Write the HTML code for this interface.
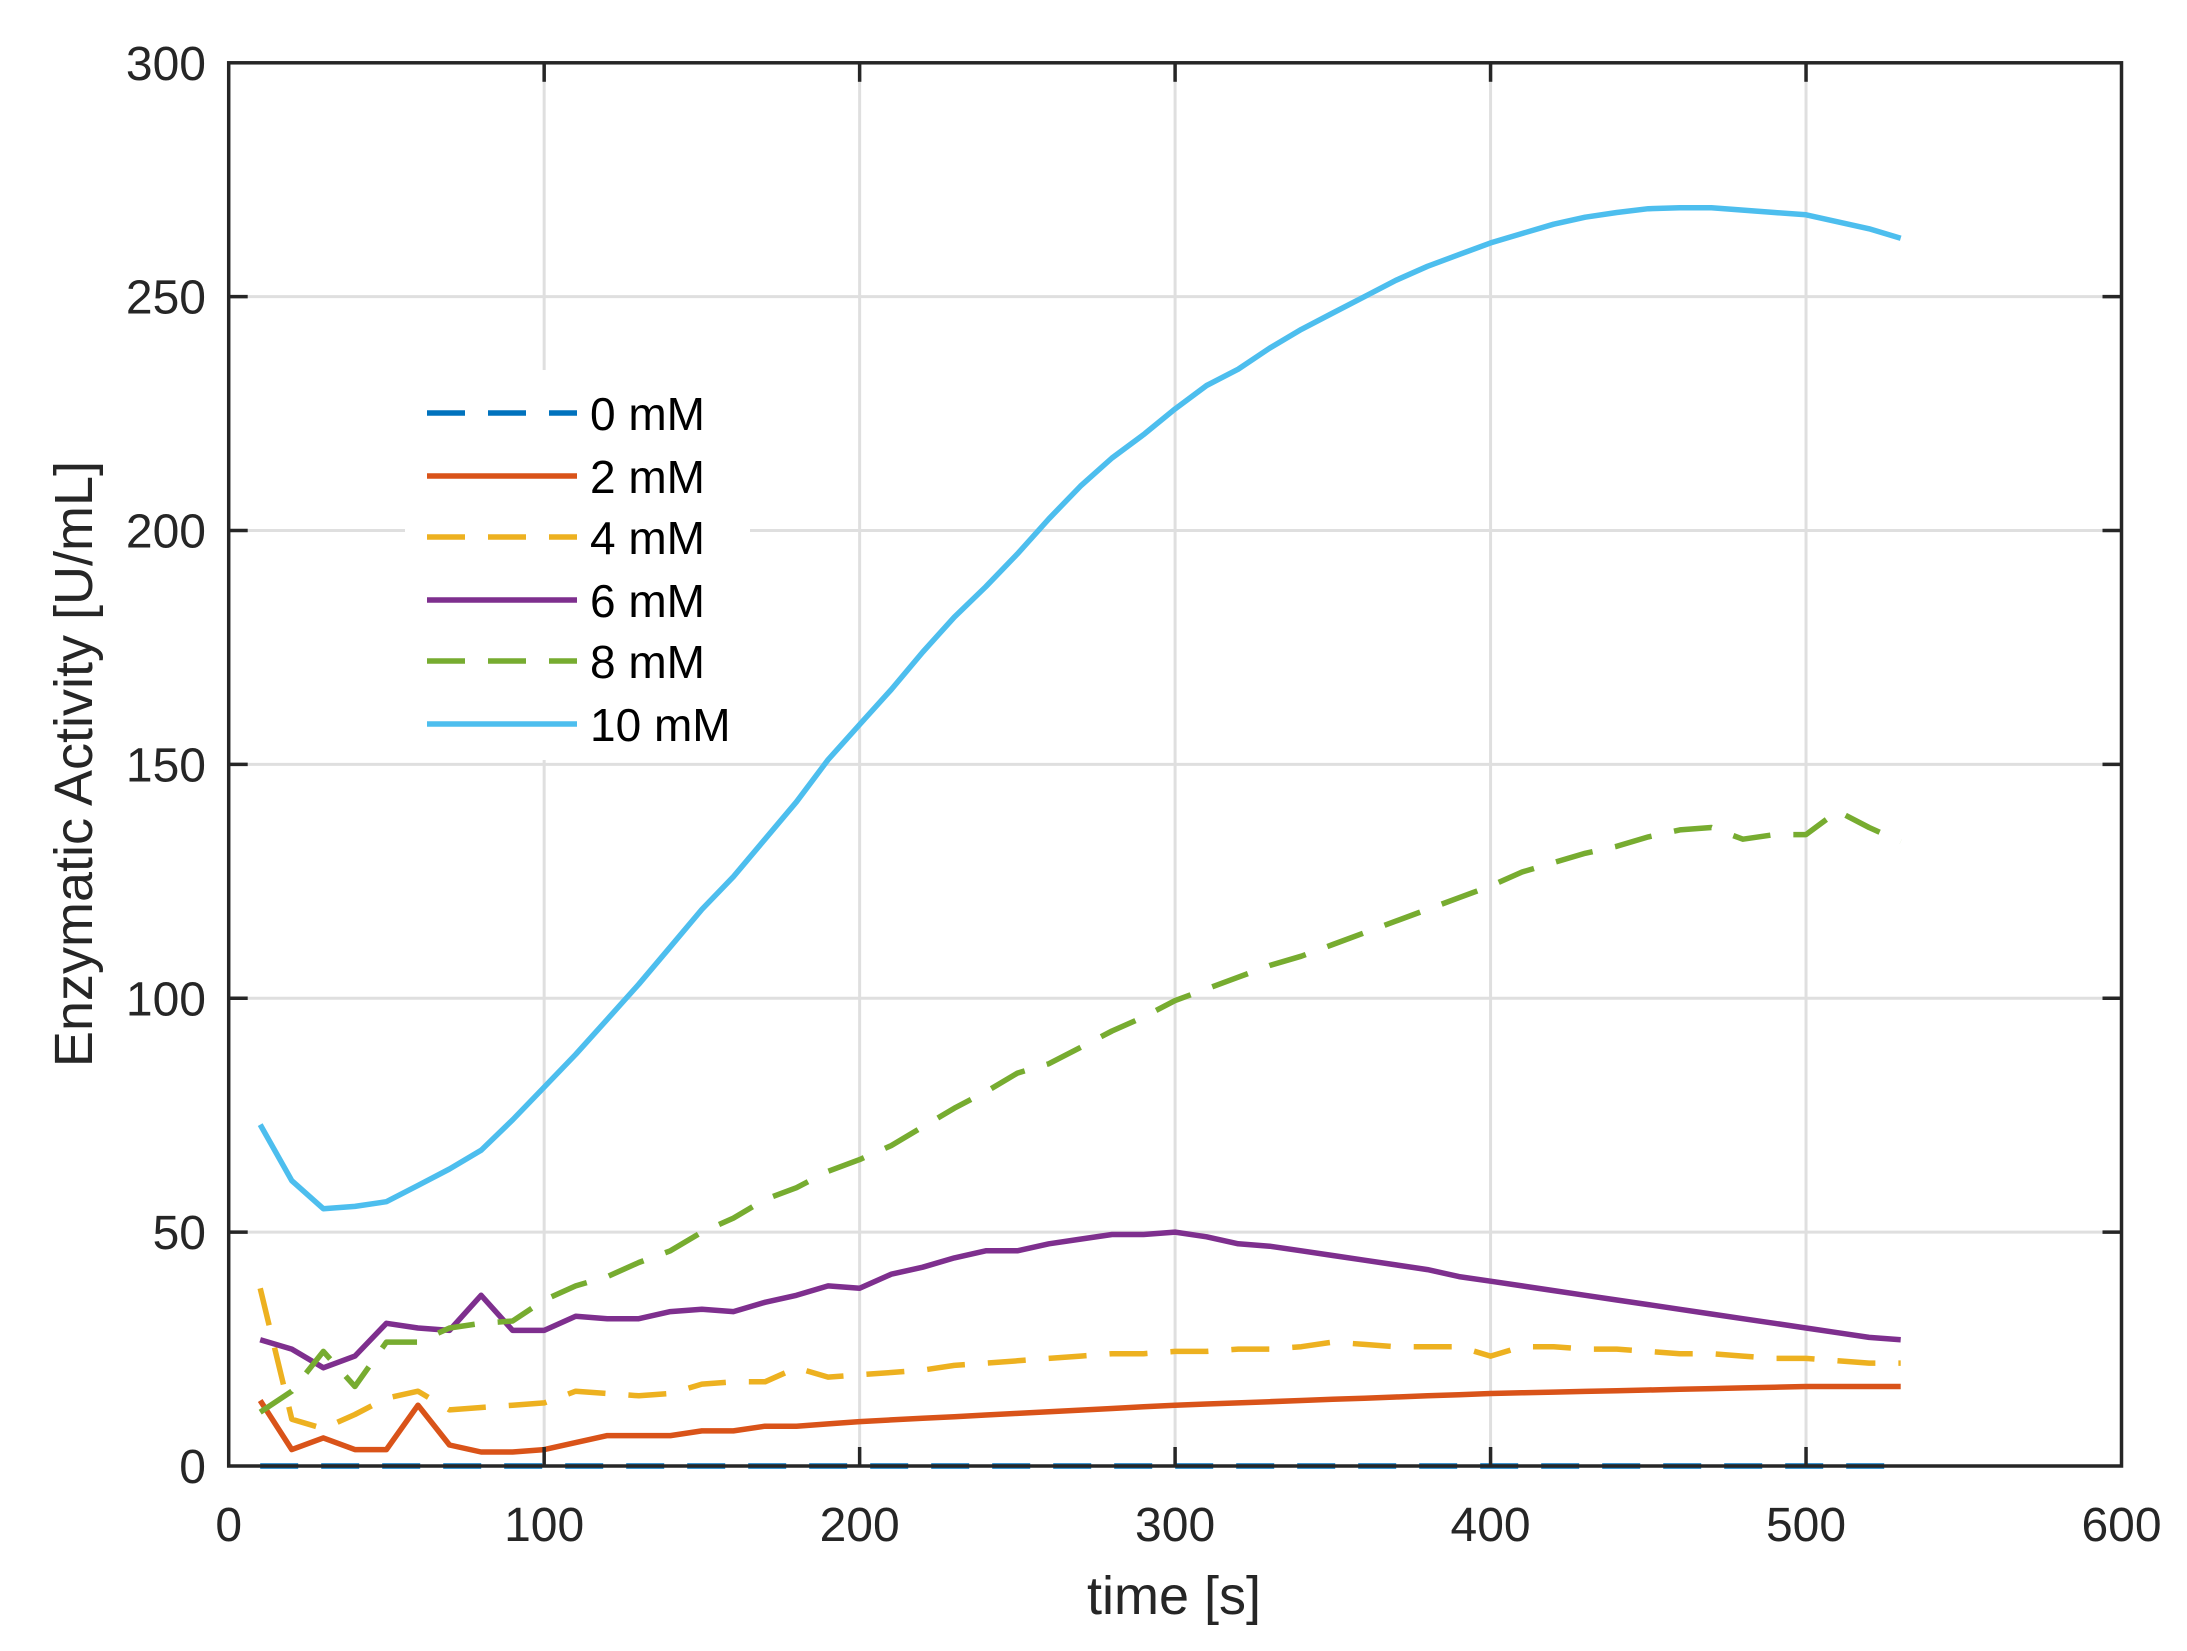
<!DOCTYPE html>
<html><head><meta charset="utf-8"><style>
html,body{margin:0;padding:0;background:#fff}
svg{display:block}
text{font-family:"Liberation Sans",Arial,sans-serif;fill:#262626}
</style></head><body>
<svg id="s" width="2187" height="1651" xmlns="http://www.w3.org/2000/svg"></svg>
<script>
const L=228.7,R=2121.5,T=62.8,B=1466;
const X=v=>L+(R-L)*v/600, Y=v=>B-(B-T)*v/300;
let h='<rect width="2187" height="1651" fill="#fff"/>';
for(let i=1;i<6;i++)h+=`<line x1="${X(i*100)}" x2="${X(i*100)}" y1="${T}" y2="${B}" stroke="#dfdfdf" stroke-width="3"/>`;
for(let i=1;i<6;i++)h+=`<line x1="${L}" x2="${R}" y1="${Y(i*50)}" y2="${Y(i*50)}" stroke="#dfdfdf" stroke-width="3"/>`;
const xs=[];for(let x=10;x<=530;x+=10)xs.push(x);
const d10=[73,61,55,55.5,56.5,60,63.5,67.5,74,81,88,95.5,103,111,119,126,134,142,151,158.5,166,174,181.5,188,195,202.5,209.5,215.5,220.5,226,231,234.5,239,243,246.5,250,253.5,256.5,259,261.5,263.5,265.5,267,268,268.8,269,269,268.5,268,267.5,266,264.5,262.5];
const d8=[11.5,16,24.5,17,26.5,26.5,29.5,30.5,31,35.5,38.5,40.5,43.5,46,50,53,57,59.5,63,65.5,68.5,72.5,76.5,80,84,86,89.5,93,96,99.5,102,104.5,107,109,111.5,114,116.5,119,121.5,124,127,129,131,132.5,134.5,136,136.5,134,135,135,140,136.5,133.5];
const d6=[27,25,21,23.5,30.5,29.5,29,36.5,29,29,32,31.5,31.5,33,33.5,33,35,36.5,38.5,38,41,42.5,44.5,46,46,47.5,48.5,49.5,49.5,50,49,47.5,47,46,45,44,43,42,40.5,39.5,38.5,37.5,36.5,35.5,34.5,33.5,32.5,31.5,30.5,29.5,28.5,27.5,27];
const d4=[38,10,8,11,14.5,16,12,12.5,13,13.5,16,15.5,15,15.5,17.5,18,18,21,19,19.5,20,20.5,21.5,22,22.5,23,23.5,24,24,24.5,24.5,25,25,25.5,26.5,26,25.5,25.5,25.5,23.5,25.5,25.5,25,25,24.5,24,24,23.5,23,23,22.5,22,22];
const d2=[14,3.5,6,3.5,3.5,13,4.5,3,3,3.5,5,6.5,6.5,6.5,7.5,7.5,8.5,8.5,9,9.5];
for(let x=210;x<=530;x+=10){let v=x<=300?9.5+(x-200)*0.035:x<=400?13+(x-300)*0.025:x<=500?15.5+(x-400)*0.015:17;d2.push(v);}
const d0=xs.map(()=>0);
const ser=[[d0,'#0072bd',1],[d2,'#d95319',0],[d4,'#edb120',1],[d6,'#7e2f8e',0],[d8,'#77ac30',1],[d10,'#4dbeee',0]];
const names=['0 mM','2 mM','4 mM','6 mM','8 mM','10 mM'];
ser.forEach(([d,c,dash])=>{h+=`<polyline fill="none" stroke="${c}" stroke-width="5.5" stroke-linejoin="round" ${dash?'stroke-dasharray="38 23"':''} points="${d.map((v,i)=>X(xs[i]).toFixed(1)+','+Y(v).toFixed(1)).join(' ')}"/>`;});
h+=`<rect x="${L}" y="${T}" width="${R-L}" height="${B-T}" fill="none" stroke="#262626" stroke-width="3.5"/>`;
for(let i=1;i<6;i++){const x=X(i*100);h+=`<line x1="${x}" x2="${x}" y1="${B}" y2="${B-19}" stroke="#262626" stroke-width="3.5"/><line x1="${x}" x2="${x}" y1="${T}" y2="${T+19}" stroke="#262626" stroke-width="3.5"/>`;}
for(let i=1;i<6;i++){const y=Y(i*50);h+=`<line x1="${L}" x2="${L+19}" y1="${y}" y2="${y}" stroke="#262626" stroke-width="3.5"/><line x1="${R}" x2="${R-19}" y1="${y}" y2="${y}" stroke="#262626" stroke-width="3.5"/>`;}
for(let i=0;i<=6;i++)h+=`<text x="${X(i*100)}" y="1541" font-size="48" text-anchor="middle">${i*100}</text>`;
for(let i=0;i<=6;i++)h+=`<text x="206" y="${Y(i*50)+17}" font-size="48" text-anchor="end">${i*50}</text>`;
h+=`<text x="1174" y="1614" font-size="54" text-anchor="middle">time [s]</text>`;
h+=`<text transform="translate(92,764) rotate(-90)" font-size="54" text-anchor="middle">Enzymatic Activity [U/mL]</text>`;
h+=`<rect x="405" y="370" width="345" height="390" fill="#fff"/>`;
const ly=[413,476,537,600,661,724];
ser.forEach(([d,c,dash],i)=>{h+=`<line x1="427" x2="577" y1="${ly[i]}" y2="${ly[i]}" stroke="${c}" stroke-width="5.5" ${dash?'stroke-dasharray="38 23"':''}/><text x="590" y="${ly[i]+17}" font-size="46" style="fill:#000">${names[i]}</text>`;});
document.getElementById('s').innerHTML=h;
</script>
</body></html>
